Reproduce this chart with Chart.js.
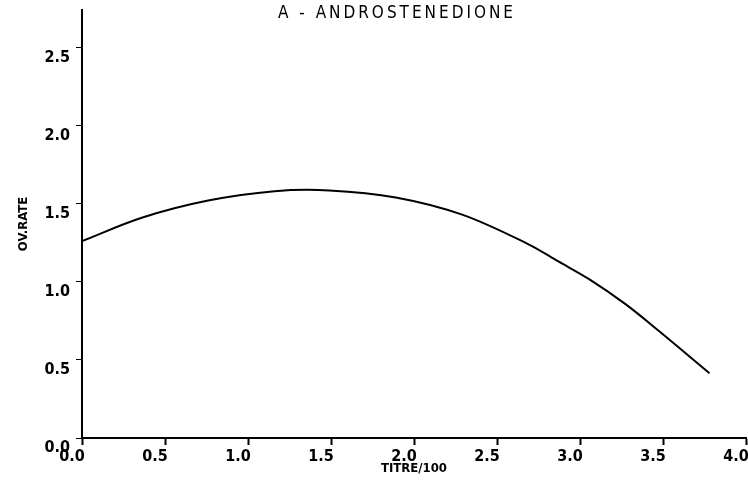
<!DOCTYPE html>
<html>
<head>
<meta charset="utf-8">
<title>A - Androstenedione</title>
<script src="https://cdn.jsdelivr.net/npm/chart.js@4.4.1/dist/chart.umd.min.js"></script>
<style>
    html, body { margin: 0; padding: 0; background: #fff; }
    #chart { display: block; }
</style>
</head>
<body>
<canvas id="chart" width="748" height="483"></canvas>
<script>
// Data
const titreX = [0, 0.36, 0.76, 1.16, 1.49, 1.89, 2.29, 2.69, 2.87, 3.05, 3.27, 3.47, 3.78];
const ovRate = [1.26, 1.41, 1.52, 1.58, 1.585, 1.54, 1.43, 1.24, 1.13, 1.02, 0.86, 0.69, 0.415];
const xTicks = [0, 0.5, 1.0, 1.5, 2.0, 2.5, 3.0, 3.5, 4.0];
const yTicks = [0, 0.5, 1.0, 1.5, 2.0, 2.5];
const chartTitle = 'A - ANDROSTENEDIONE';

const FONT = "'DejaVu Sans Condensed', 'Liberation Sans Narrow', sans-serif";
const NARROW = "'Liberation Sans Narrow', 'DejaVu Sans Condensed', sans-serif";

// Title drawn by hand: the plotter lettering is spaced out and sits over the axis top
const titlePlugin = {
    id: 'plotTitle',
    afterDraw(chart) {
        const ctx = chart.ctx;
        ctx.save();
        ctx.font = '17px ' + NARROW;
        ctx.fillStyle = '#000';
        ctx.textBaseline = 'alphabetic';
        const targetWidth = 235;
        const w = ctx.measureText(chartTitle).width;
        const spacing = Math.max(0, (targetWidth - w) / (chartTitle.length - 1));
        let x = 278;
        for (const ch of chartTitle) {
            ctx.fillText(ch, x, 18);
            x += ctx.measureText(ch).width + spacing;
        }
        ctx.restore();
    }
};

const ctx = document.getElementById('chart').getContext('2d');
new Chart(ctx, {
    type: 'line',
    data: {
        datasets: [{
            data: titreX.map((x, i) => ({ x: x, y: ovRate[i] })),
            borderColor: '#000',
            borderWidth: 2,
            pointRadius: 0,
            fill: false,
            tension: 0.35
        }]
    },
    options: {
        responsive: false,
        animation: false,
        layout: { padding: { top: 10, right: 2, left: 0, bottom: 0 } },
        plugins: {
            legend: { display: false },
            tooltip: { enabled: false }
        },
        scales: {
            x: {
                type: 'linear',
                min: 0,
                max: 4,
                afterFit: scale => {
                    scale.height = 45;
                    scale.paddingLeft = 0;
                    scale.paddingRight = 0;
                },
                afterBuildTicks: scale => { scale.ticks = xTicks.map(v => ({ value: v })); },
                border: { display: true, color: '#000', width: 2 },
                grid: { drawOnChartArea: false, tickLength: 7, tickColor: '#000', tickWidth: 2 },
                ticks: {
                    color: '#000',
                    padding: 2,
                    labelOffset: -10,
                    maxRotation: 0,
                    font: { family: FONT, size: 16, weight: 'bold' },
                    callback: v => Number(v).toFixed(1)
                },
                title: {
                    display: true,
                    text: 'TITRE/100',
                    color: '#000',
                    padding: { top: 0, bottom: 7 },
                    font: { family: NARROW, size: 13, weight: 'bold' }
                }
            },
            y: {
                type: 'linear',
                min: 0,
                max: 2.74,
                afterFit: scale => {
                    scale.width = 82;
                    scale.paddingTop = 0;
                    scale.paddingBottom = 0;
                },
                afterBuildTicks: scale => { scale.ticks = yTicks.map(v => ({ value: v })); },
                border: { display: true, color: '#000', width: 2 },
                grid: { drawOnChartArea: false, tickLength: 6, tickColor: '#000', tickWidth: 1 },
                ticks: {
                    color: '#000',
                    padding: 6,
                    labelOffset: 10,
                    font: { family: FONT, size: 16, weight: 'bold' },
                    callback: v => Number(v).toFixed(1)
                },
                title: {
                    display: true,
                    text: 'OV.RATE',
                    color: '#000',
                    align: 'center',
                    padding: { top: 16, bottom: 0 },
                    font: { family: NARROW, size: 13, weight: 'bold' }
                }
            }
        }
    },
    plugins: [titlePlugin]
});
</script>
</body>
</html>
